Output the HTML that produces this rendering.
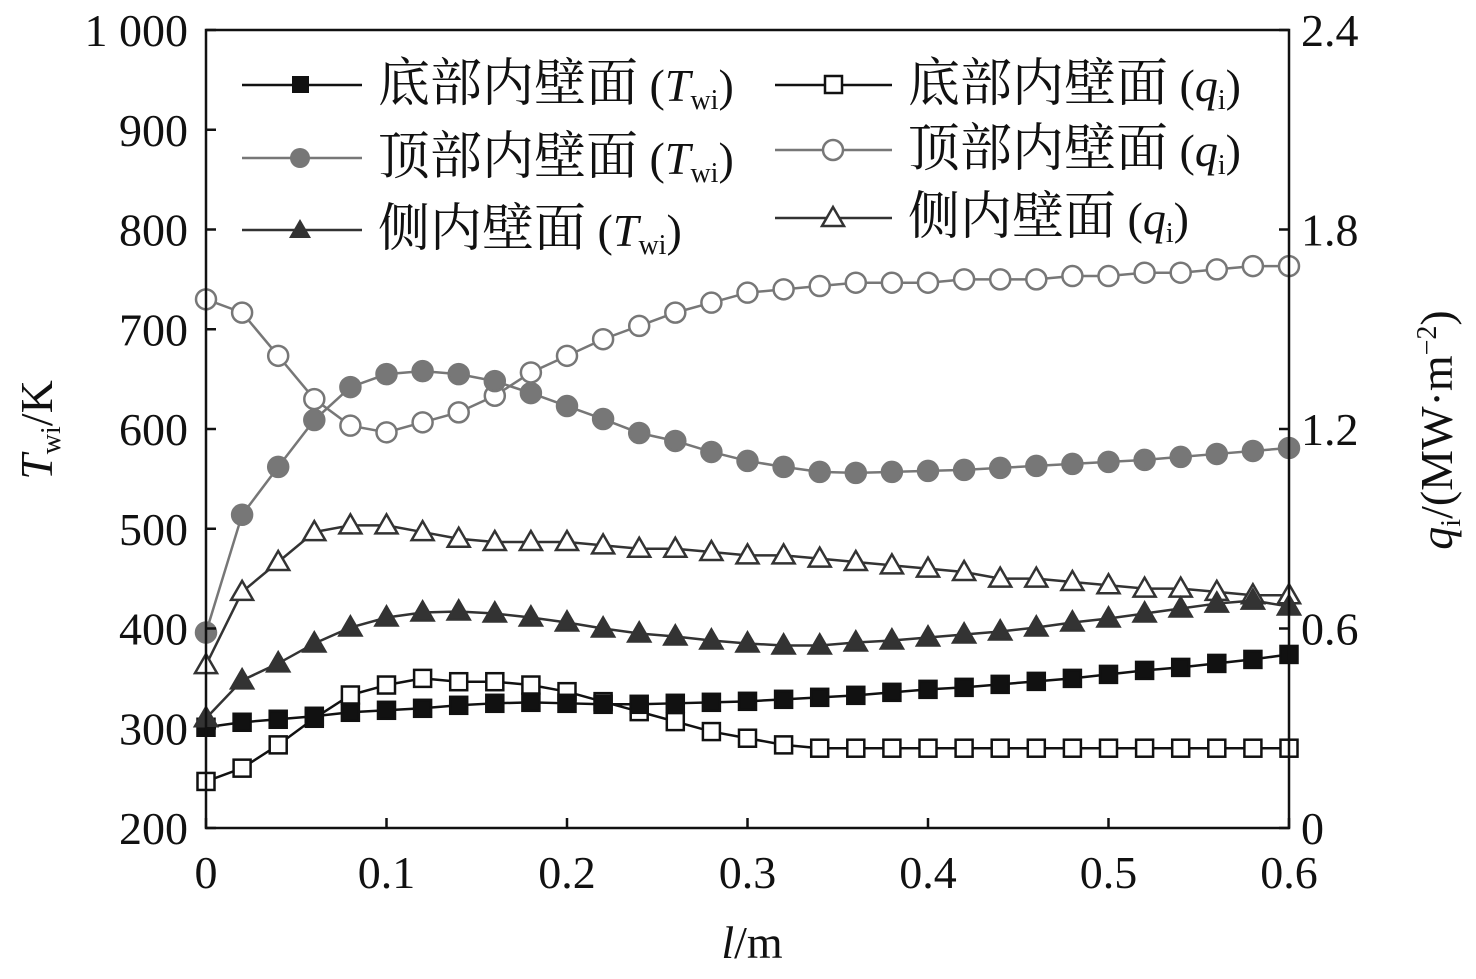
<!DOCTYPE html>
<html><head><meta charset="utf-8">
<style>
html,body{margin:0;padding:0;background:#fff;}
svg text{font-family:"Liberation Serif","Noto Serif CJK SC",serif;}
</style></head>
<body>
<svg id="chart" width="1476" height="974" xmlns="http://www.w3.org/2000/svg"></svg>
<script>
const xs = [0,0.02,0.04,0.06,0.08,0.1,0.12,0.14,0.16,0.18,0.2,0.22,0.24,0.26,0.28,0.3,0.32,0.34,0.36,0.38,0.4,0.42,0.44,0.46,0.48,0.5,0.52,0.54,0.56,0.58,0.6];
const bottomT = [301,306,309,312,316,318,320,323,325,326,325,324,324,325,326,327,329,331,333,336,339,341,344,347,350,354,358,361,365,369,374];
const topT = [396,514,562,609,642,655,658,655,648,636,623,610,596,588,577,568,562,557,556,557,558,559,561,563,565,567,569,572,575,578,581];
const sideT = [310,348,365,385,401,411,416,417,415,411,406,400,395,392,388,385,383,383,386,388,391,394,397,401,406,410,415,420,425,428,422];
const bottomQ = [0.14,0.18,0.25,0.33,0.40,0.43,0.45,0.44,0.44,0.43,0.41,0.38,0.35,0.32,0.29,0.27,0.25,0.24,0.24,0.24,0.24,0.24,0.24,0.24,0.24,0.24,0.24,0.24,0.24,0.24,0.24];
const topQ = [1.59,1.55,1.42,1.29,1.21,1.19,1.22,1.25,1.30,1.37,1.42,1.47,1.51,1.55,1.58,1.61,1.62,1.63,1.64,1.64,1.64,1.65,1.65,1.65,1.66,1.66,1.67,1.67,1.68,1.69,1.69];
const sideQ = [0.49,0.71,0.80,0.89,0.91,0.91,0.89,0.87,0.86,0.86,0.86,0.85,0.84,0.84,0.83,0.82,0.82,0.81,0.80,0.79,0.78,0.77,0.75,0.75,0.74,0.73,0.72,0.72,0.71,0.70,0.70];
const xTicks = [0,0.1,0.2,0.3,0.4,0.5,0.6];
const xTickLabels = ["0","0.1","0.2","0.3","0.4","0.5","0.6"];
const yTicks = [200,300,400,500,600,700,800,900,1000];
const yTickLabels = ["200","300","400","500","600","700","800","900","1 000"];
const y2Ticks = [0,0.6,1.2,1.8,2.4];
const y2TickLabels = ["0","0.6","1.2","1.8","2.4"];

const L=206,R=1289,T=30,B=828;
const sx=v=>L+(v-0)/0.6*(R-L);
const sy=v=>B-(v-200)/800*(B-T);
const sy2=v=>B-v/2.4*(B-T);
const svg=document.getElementById('chart');
const NS='http://www.w3.org/2000/svg';
function mk(tag,attrs,parent){const e=document.createElementNS(NS,tag);for(const k in attrs)e.setAttribute(k,attrs[k]);(parent||svg).appendChild(e);return e;}

function marker(g,shape,x,y,color,filled){
  const f=filled?color:'#fff';let e;
  if(shape==='sq'){e=mk('rect',{x:x-8.5,y:y-8.5,width:17,height:17,fill:f,stroke:color,'stroke-width':2.5},g);}
  else if(shape==='ci'){e=mk('circle',{cx:x,cy:y,r:10,fill:f,stroke:color,'stroke-width':2.5},g);}
  else {e=mk('polygon',{points:`${x},${y-11} ${x+11},${y+8} ${x-11},${y+8}`,fill:f,stroke:color,'stroke-width':2.5},g);}
  
  
}
function series(name,vals,scale,shape,color,filled){
  const g=mk('g',{});
  
  
  const pts=vals.map((v,i)=>[sx(xs[i]),scale(v)]);
  const pl=mk('polyline',{points:pts.map(p=>p.join(',')).join(' '),fill:'none',stroke:color,'stroke-width':2.5},g);
  
  
  pts.forEach(p=>marker(g,shape,p[0],p[1],color,filled));
}
series('bottom-q-series',bottomQ,sy2,'sq','#111',false);
series('top-q-series',topQ,sy2,'ci','#777',false);
series('side-q-series',sideQ,sy2,'tr','#333',false);
series('bottom-twi-series',bottomT,sy,'sq','#111',true);
series('top-twi-series',topT,sy,'ci','#777',true);
series('side-twi-series',sideT,sy,'tr','#333',true);

const fr=mk('rect',{x:L,y:T,width:R-L,height:B-T,fill:'none',stroke:'#111','stroke-width':2.5});


xTicks.forEach((v,i)=>{
  mk('line',{x1:sx(v),x2:sx(v),y1:B,y2:B-10,stroke:'#111','stroke-width':2.5});
  const t=mk('text',{x:sx(v),y:B+60,'font-size':46,'text-anchor':'middle',fill:'#111'});
  t.textContent=xTickLabels[i];
  
  
});
yTicks.forEach((v,i)=>{
  mk('line',{x1:L,x2:L+10,y1:sy(v),y2:sy(v),stroke:'#111','stroke-width':2.5});
  const t=mk('text',{x:L-18,y:sy(v)+16,'font-size':46,'text-anchor':'end',fill:'#111'});
  t.textContent=yTickLabels[i];
  
  
});
y2Ticks.forEach((v,i)=>{
  mk('line',{x1:R,x2:R-10,y1:sy2(v),y2:sy2(v),stroke:'#111','stroke-width':2.5});
  const t=mk('text',{x:R+12,y:sy2(v)+16,'font-size':46,'text-anchor':'start',fill:'#111'});
  t.textContent=y2TickLabels[i];
  
  
});
</script>
<svg style="position:absolute;left:0;top:0" width="1476" height="974" xmlns="http://www.w3.org/2000/svg">
<text x="752" y="958" font-size="46" text-anchor="middle" fill="#111"><tspan font-style="italic">l</tspan>/m</text>
<text transform="translate(52,430) rotate(-90)" font-size="46" text-anchor="middle" fill="#111"><tspan font-style="italic">T</tspan><tspan font-size="28" dy="8">wi</tspan><tspan dy="-8">/K</tspan></text>
<text transform="translate(1452,430) rotate(-90)" font-size="46" text-anchor="middle" fill="#111"><tspan font-style="italic">q</tspan><tspan font-size="28" dy="8">i</tspan><tspan dy="-8">/(MW·m</tspan><tspan font-size="28" dy="-16">−2</tspan><tspan dy="16">)</tspan></text>
<g font-size="46" fill="#111">
 <line x1="242" y1="85" x2="362" y2="85" stroke="#111" stroke-width="2.5"/><rect x="292" y="76" width="17" height="17" fill="#111"/>
 <text x="378" y="101"><tspan font-size="52">底部内壁面</tspan> (<tspan font-style="italic">T</tspan><tspan font-size="28" dy="8">wi</tspan><tspan dy="-8">)</tspan></text>
 <line x1="242" y1="158" x2="362" y2="158" stroke="#777" stroke-width="2.5"/><circle cx="300" cy="158" r="10" fill="#777"/>
 <text x="378" y="174"><tspan font-size="52">顶部内壁面</tspan> (<tspan font-style="italic">T</tspan><tspan font-size="28" dy="8">wi</tspan><tspan dy="-8">)</tspan></text>
 <line x1="242" y1="230" x2="362" y2="230" stroke="#333" stroke-width="2.5"/><polygon points="300,219 311,238 289,238" fill="#333"/>
 <text x="378" y="246"><tspan font-size="52">侧内壁面</tspan> (<tspan font-style="italic">T</tspan><tspan font-size="28" dy="8">wi</tspan><tspan dy="-8">)</tspan></text>
 <line x1="775" y1="85" x2="892" y2="85" stroke="#111" stroke-width="2.5"/><rect x="825" y="76" width="17" height="17" fill="#fff" stroke="#111" stroke-width="2.5"/>
 <text x="908" y="101"><tspan font-size="52">底部内壁面</tspan> (<tspan font-style="italic">q</tspan><tspan font-size="28" dy="8">i</tspan><tspan dy="-8">)</tspan></text>
 <line x1="775" y1="150" x2="892" y2="150" stroke="#777" stroke-width="2.5"/><circle cx="833" cy="150" r="10" fill="#fff" stroke="#777" stroke-width="2.5"/>
 <text x="908" y="166"><tspan font-size="52">顶部内壁面</tspan> (<tspan font-style="italic">q</tspan><tspan font-size="28" dy="8">i</tspan><tspan dy="-8">)</tspan></text>
 <line x1="775" y1="218" x2="892" y2="218" stroke="#333" stroke-width="2.5"/><polygon points="833,207 844,226 822,226" fill="#fff" stroke="#333" stroke-width="2.5"/>
 <text x="908" y="234"><tspan font-size="52">侧内壁面</tspan> (<tspan font-style="italic">q</tspan><tspan font-size="28" dy="8">i</tspan><tspan dy="-8">)</tspan></text>
</g>
</svg>
</body></html>
